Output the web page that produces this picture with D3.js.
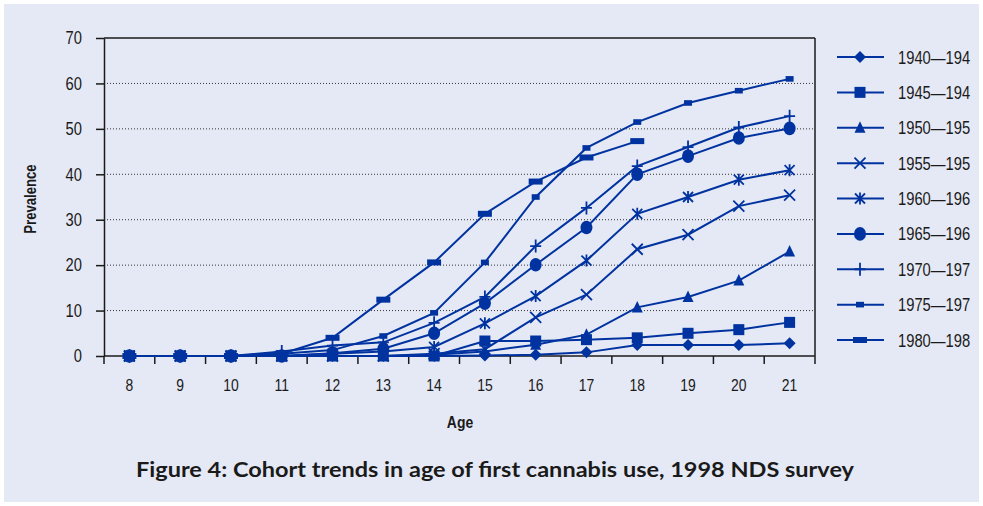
<!DOCTYPE html>
<html>
<head>
<meta charset="utf-8">
<script src="https://cdn.jsdelivr.net/npm/d3@7"></script>
<style>
  html, body { margin: 0; padding: 0; background: #ffffff; }
  svg { display: block; }
</style>
</head>
<body>
<svg id="chart" width="983" height="506"></svg>
<script>
// ---------- DATA ----------
const ages = [8, 9, 10, 11, 12, 13, 14, 15, 16, 17, 18, 19, 20, 21];
const cohorts = ["1940—194", "1945—194", "1950—195", "1955—195", "1960—196", "1965—196", "1970—197", "1975—197", "1980—198"];
const v1940 = [0, 0, 0, 0, 0, 0, 0, 0.1, 0.3, 0.8, 2.4, 2.4, 2.4, 2.8];
const v1945 = [0, 0, 0, 0, 0, 0, 0, 3.3, 3.3, 3.6, 4.0, 5.0, 5.8, 7.4];
const v1950 = [0, 0, 0, 0, 0, 0, 0.3, 1.0, 2.5, 4.7, 10.7, 13.0, 16.6, 23.0];
const v1955 = [0, 0, 0, 0, 0, 0, 0.5, 1.5, 8.5, 13.5, 23.5, 26.7, 33.0, 35.4];
const v1960 = [0, 0, 0, 0, 0.5, 1.0, 2.0, 7.2, 13.2, 21.0, 31.3, 35.0, 38.8, 40.9];
const v1965 = [0, 0, 0, 0, 0.6, 1.6, 5.0, 11.6, 20.1, 28.3, 40.0, 44.0, 48.0, 50.1];
const v1970 = [0, 0, 0, 1.0, 2.3, 3.0, 7.3, 13.0, 24.2, 32.6, 41.8, 46.0, 50.3, 52.8];
const v1975 = [0, 0, 0, 0.5, 1.3, 4.4, 9.5, 20.6, 35.0, 45.8, 51.5, 55.7, 58.4, 61.0];
const v1980 = [0, 0, 0, 0.5, 4.0, 12.4, 20.6, 31.3, 38.4, 43.7, 47.3, null, null, null];
const seriesValues = [v1940, v1945, v1950, v1955, v1960, v1965, v1970, v1975, v1980];
const markerTypes = ["diamond", "square", "triangle", "x", "asterisk", "circle", "plus", "smallrect", "widerect"];
const yTicks = [0, 10, 20, 30, 40, 50, 60, 70];
const title = "Figure 4: Cohort trends in age of first cannabis use, 1998 NDS survey";
const xTitle = "Age";
const yTitle = "Prevalence";

// ---------- STYLE ----------
const BG = "#e5e9f5";
const BLUE = "#0033a0";
const INK = "#1a1a1a";
const SANS = "'Liberation Sans', Arial, sans-serif";
const SQ = 0.82; // horizontal squeeze to imitate a narrow face

const svg = d3.select("#chart");
svg.append("rect").attr("x", 4).attr("y", 4).attr("width", 975).attr("height", 498).attr("fill", BG);

const plot = { left: 104, right: 815, top: 38, bottom: 356 };

const x = d3.scaleBand().domain(ages).range([plot.left, plot.right]).padding(0);
const cx = d => x(d) + x.bandwidth() / 2;
const y = d3.scaleLinear().domain([0, 70]).range([plot.bottom, plot.top]);

// gridlines
svg.append("g").selectAll("line").data(yTicks.filter(t => t > 0 && t < 70)).join("line")
  .attr("x1", plot.left).attr("x2", plot.right)
  .attr("y1", d => y(d)).attr("y2", d => y(d))
  .attr("stroke", "#333").attr("stroke-width", 1).attr("stroke-dasharray", "1,2");

// frame top & right
svg.append("line").attr("x1", plot.left).attr("x2", plot.right).attr("y1", plot.top).attr("y2", plot.top)
  .attr("stroke", INK).attr("stroke-width", 1.5);
svg.append("line").attr("x1", plot.right).attr("x2", plot.right).attr("y1", plot.top).attr("y2", plot.bottom)
  .attr("stroke", INK).attr("stroke-width", 1.5);

// y axis
const yAxis = svg.append("g").attr("transform", `translate(${plot.left},0)`)
  .call(d3.axisLeft(y).tickValues(yTicks).tickSizeInner(8).tickSizeOuter(0).tickPadding(14));
yAxis.select(".domain").attr("stroke", INK).attr("stroke-width", 1.5);
yAxis.selectAll(".tick line").attr("stroke", INK).attr("stroke-width", 1.5);
yAxis.selectAll("text").attr("font-family", SANS).attr("font-size", 18).attr("fill", INK)
  .attr("x", -22 / SQ).attr("transform", `scale(${SQ},1)`);

// x axis (labels at band centers, ticks at band boundaries)
const xAxis = svg.append("g").attr("transform", `translate(0,${plot.bottom})`)
  .call(d3.axisBottom(x).tickSize(0).tickPadding(23));
xAxis.select(".domain").remove();
xAxis.selectAll("text").attr("font-family", SANS).attr("font-size", 17).attr("fill", INK)
  .attr("transform", `scale(${SQ},1)`);
svg.append("line").attr("x1", plot.left).attr("x2", plot.right).attr("y1", plot.bottom).attr("y2", plot.bottom)
  .attr("stroke", INK).attr("stroke-width", 1.5);
const bounds = ages.map(a => x(a)).concat([x(ages[ages.length - 1]) + x.bandwidth()]);
svg.append("g").selectAll("line").data(bounds).join("line")
  .attr("x1", d => d).attr("x2", d => d).attr("y1", plot.bottom).attr("y2", plot.bottom + 8)
  .attr("stroke", INK).attr("stroke-width", 1.5);

// axis titles
svg.append("text").attr("transform", `translate(460,428) scale(${SQ},1)`).attr("text-anchor", "middle")
  .attr("font-family", SANS).attr("font-weight", "bold").attr("font-size", 17).attr("fill", INK).text(xTitle);
svg.append("text").attr("transform", `translate(36,199) rotate(-90) scale(${SQ},1)`).attr("text-anchor", "middle")
  .attr("font-family", SANS).attr("font-weight", "bold").attr("font-size", 16).attr("fill", INK).text(yTitle);

// figure title
svg.append("text").attr("x", 495).attr("y", 477).attr("text-anchor", "middle")
  .attr("font-family", "Lato, 'Open Sans', sans-serif").attr("font-weight", "bold").attr("font-size", 21.5)
  .attr("fill", INK).attr("textLength", 718).attr("lengthAdjust", "spacingAndGlyphs").text(title);

// ---------- MARKERS ----------
function drawMarker(g, type) {
  switch (type) {
    case "diamond":
      g.append("path").attr("d", "M0,-6L6,0L0,6L-6,0Z").attr("fill", BLUE); break;
    case "square":
      g.append("rect").attr("x", -5.5).attr("y", -5.5).attr("width", 11).attr("height", 11).attr("fill", BLUE); break;
    case "triangle":
      g.append("path").attr("d", "M0,-6.5L5.5,5L-5.5,5Z").attr("fill", BLUE); break;
    case "x":
      g.append("path").attr("d", "M-5.5,-5.5L5.5,5.5M5.5,-5.5L-5.5,5.5").attr("stroke", BLUE).attr("stroke-width", 1.8).attr("fill", "none"); break;
    case "asterisk":
      g.append("path").attr("d", "M-5,-5L5,5M5,-5L-5,5M0,-6L0,6").attr("stroke", BLUE).attr("stroke-width", 1.8).attr("fill", "none"); break;
    case "circle":
      g.append("ellipse").attr("rx", 6).attr("ry", 6.8).attr("fill", BLUE); break;
    case "plus":
      g.append("path").attr("d", "M0,-6.5L0,6.5M-5.5,0L5.5,0").attr("stroke", BLUE).attr("stroke-width", 1.8).attr("fill", "none"); break;
    case "smallrect":
      g.append("rect").attr("x", -4).attr("y", -2.8).attr("width", 8).attr("height", 5.6).attr("fill", BLUE); break;
    case "widerect":
      g.append("rect").attr("x", -7).attr("y", -3).attr("width", 14).attr("height", 6).attr("fill", BLUE); break;
  }
}

const line = d3.line().defined(d => d.v !== null).x(d => cx(d.age)).y(d => y(d.v));

seriesValues.forEach((vals, i) => {
  const pts = ages.map((a, j) => ({ age: a, v: vals[j] }));
  const g = svg.append("g");
  g.append("path").datum(pts).attr("d", line).attr("fill", "none").attr("stroke", BLUE).attr("stroke-width", 2);
  pts.filter(p => p.v !== null).forEach(p => {
    const m = g.append("g").attr("transform", `translate(${cx(p.age)},${y(p.v)})`);
    drawMarker(m, markerTypes[i]);
  });
});

// ---------- LEGEND ----------
const legendY = d3.scalePoint().domain(cohorts).range([57, 340]);
cohorts.forEach((c, i) => {
  const ly = legendY(c);
  const g = svg.append("g");
  g.append("line").attr("x1", 837).attr("x2", 884).attr("y1", ly).attr("y2", ly).attr("stroke", BLUE).attr("stroke-width", 2);
  drawMarker(g.append("g").attr("transform", `translate(860,${ly})`), markerTypes[i]);
  g.append("text").attr("transform", `translate(898,${ly + 6.5}) scale(${SQ},1)`).attr("font-family", SANS).attr("font-size", 18)
    .attr("fill", INK).text(c);
});
</script>
</body>
</html>
